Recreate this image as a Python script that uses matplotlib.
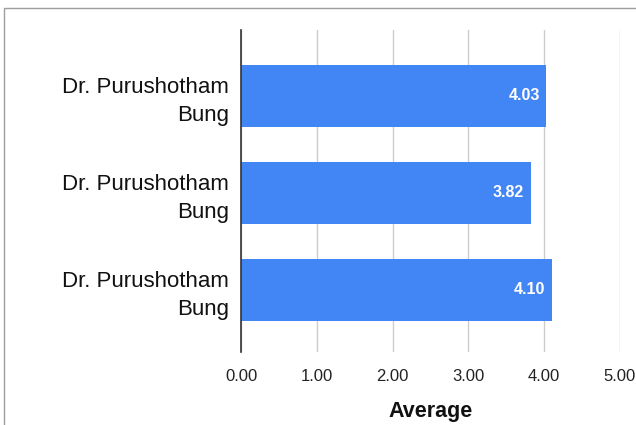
import matplotlib
matplotlib.use("Agg")
import matplotlib.pyplot as plt
from matplotlib.patches import Rectangle

categories = ["Dr. Purushotham\nBung", "Dr. Purushotham\nBung", "Dr. Purushotham\nBung"]
values = [4.03, 3.82, 4.10]
x_ticks = [0, 1, 2, 3, 4, 5]
x_tick_labels = ["0.00", "1.00", "2.00", "3.00", "4.00", "5.00"]

plt.rcParams['font.family'] = ['Liberation Sans', 'DejaVu Sans']

fig = plt.figure(figsize=(6.36, 4.25), dpi=100)
fig.patch.set_facecolor("white")
fig.patches.append(Rectangle((4/636, -0.1), 1.2, 1 - 8/425 + 0.1, transform=fig.transFigure,
                             fill=False, edgecolor="#9e9e9e", linewidth=1.0))

ax = fig.add_axes([241/636, 1 - 352/425, 379/636, 322/425])
pos = list(range(len(values)))
ax.barh(pos, values, height=0.64, color="#4285F4", zorder=3)
for p, v in zip(pos, values):
    ax.text(v - 0.09, p, f"{v:.2f}", color="white", fontweight="bold", fontsize=11.5,
            ha="right", va="center", zorder=4)

ax.set_xlim(0, 5)
ax.set_ylim(2.64, -0.68)
ax.set_xticks(x_ticks)
ax.set_xticklabels(x_tick_labels, fontsize=12, color="#222222")
ax.set_yticks(pos)
ax.set_yticklabels(categories, fontsize=16, color="#111111", ha="right", linespacing=1.4)
ax.tick_params(axis="both", length=0)
ax.tick_params(axis="x", pad=12.5)
ax.tick_params(axis="y", pad=8.5)
ax.grid(axis="x", color="#cccccc", linewidth=1, zorder=0)
for s in ["top", "right", "bottom"]:
    ax.spines[s].set_visible(False)
ax.spines["left"].set_color("#333333")
ax.spines["left"].set_linewidth(1.2)
ax.spines["left"].set_zorder(5)
ax.set_xlabel("Average", fontsize=15.5, fontweight="bold", color="#111111", labelpad=12)

fig.savefig("out.png", dpi=100, facecolor="white")
